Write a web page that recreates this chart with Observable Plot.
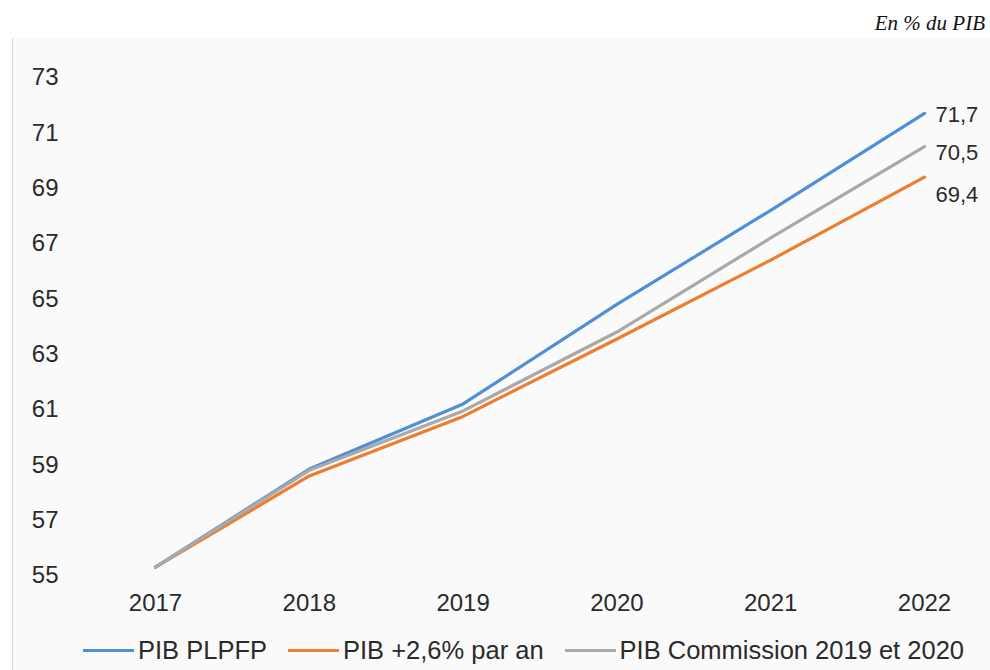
<!DOCTYPE html>
<html>
<head>
<meta charset="utf-8">
<script src="https://cdn.jsdelivr.net/npm/d3@7"></script>
<script src="https://cdn.jsdelivr.net/npm/@observablehq/plot@0.6"></script>
<style>
  html, body { margin: 0; padding: 0; background: #ffffff; }
  body { width: 990px; height: 670px; overflow: hidden; font-family: "Liberation Sans", Arial, sans-serif; }
  #title { height: 38px; text-align: right; padding-right: 5px; box-sizing: border-box;
           font-family: "Liberation Serif", "Times New Roman", serif; font-style: italic;
           font-size: 21px; color: #111; line-height: 46px; }
  #panel { position: relative; height: 632px; margin-left: 12px; background: #fafafa;
           border-left: 1px solid #d8d8d8; }
  #chart { position: absolute; left: -13px; top: 0; }
  #legend { position: absolute; left: 70px; top: 598px; display: flex; align-items: center;
            font-size: 25.5px; color: #2a2a2a; white-space: nowrap; }
  .sw { display: inline-block; width: 51px; height: 3px; margin-right: 4px; }
  .item { display: flex; align-items: center; margin-right: 21px; }
</style>
</head>
<body>
<div id="title">En % du PIB</div>
<div id="panel">
  <div id="chart"></div>
  <div id="legend"></div>
</div>
<script>
const years = [2017, 2018, 2019, 2020, 2021, 2022];
const seriesNames = ["PIB PLPFP", "PIB +2,6% par an", "PIB Commission 2019 et 2020"];
const seriesColors = ["#4f8fd6", "#ed7d31", "#a9a9a9"];
const plpfp      = [55.3, 58.85, 61.2, 64.8, 68.2, 71.7];
const pib26      = [55.3, 58.6, 60.75, 63.55, 66.4, 69.4];
const commission = [55.3, 58.8, 60.95, 63.8, 67.2, 70.5];
const yTicks = [55, 57, 59, 61, 63, 65, 67, 69, 71, 73];
const endLabels = ["71,7", "69,4", "70,5"];

const allValues = [plpfp, pib26, commission];
const data = [];
seriesNames.forEach((s, i) => years.forEach((y, j) => data.push({series: s, year: y, value: allValues[i][j]})));
const ends = seriesNames.map((s, i) => ({series: s, year: years[years.length - 1], value: allValues[i][years.length - 1], label: endLabels[i]}));
const labelDy = {"PIB PLPFP": 1, "PIB +2,6% par an": 18, "PIB Commission 2019 et 2020": 6};

const chart = Plot.plot({
  width: 990,
  height: 600,
  marginTop: 39,
  marginBottom: 63,
  marginLeft: 155,
  marginRight: 66,
  style: { background: "transparent", fontFamily: "'Liberation Sans', Arial, sans-serif" },
  x: { domain: [2017, 2022] },
  y: { domain: [55, 73] },
  color: { domain: seriesNames, range: seriesColors },
  marks: [
    Plot.axisX({ticks: years, tickSize: 0, tickPadding: 18, tickFormat: d => String(d), fontSize: 24, fill: "#2a2a2a", label: null}),
    Plot.axisY({ticks: yTicks, tickSize: 0, tickPadding: 97, fontSize: 24, fill: "#2a2a2a", label: null}),
    Plot.line(data, {x: "year", y: "value", z: "series", stroke: "series", strokeWidth: 3.2, curve: "linear"}),
    ...seriesNames.map(s => Plot.text(ends.filter(d => d.series === s), {
      x: "year", y: "value", text: "label", textAnchor: "start", dx: 11, dy: labelDy[s],
      fontSize: 22, fill: "#2a2a2a"
    }))
  ]
});
document.getElementById("chart").appendChild(chart);

const legend = document.getElementById("legend");
seriesNames.forEach((s, i) => {
  const item = document.createElement("div");
  item.className = "item";
  const sw = document.createElement("span");
  sw.className = "sw";
  sw.style.background = seriesColors[i];
  const t = document.createElement("span");
  t.textContent = s;
  item.appendChild(sw);
  item.appendChild(t);
  legend.appendChild(item);
});
</script>
</body>
</html>
